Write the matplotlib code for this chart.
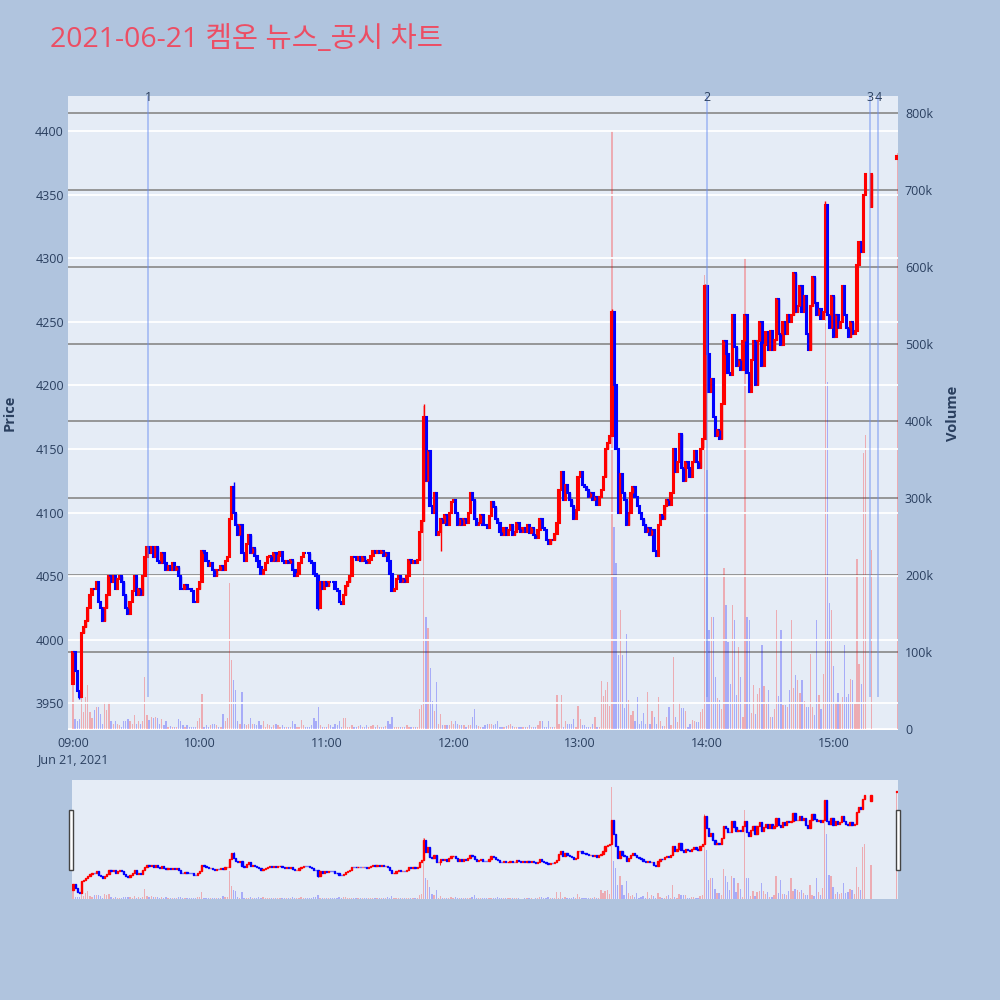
import numpy as np
import matplotlib.pyplot as plt
from matplotlib.patches import Rectangle
import matplotlib.transforms as mtransforms

plt.rcParams['font.family'] = ['Open Sans', 'Noto Sans CJK KR', 'DejaVu Sans']

title = '2021-06-21 켐온 뉴스_공시 차트'

# 1-minute closes from 09:00 (index = minutes after 09:00), nan = no trade
nan = np.nan
closes = [
    3990, 3975, 3960, 3955, 4005, 4010, 4015, 4025, 4035, 4040,
    4040, 4045, 4030, 4025, 4015, 4025, 4035, 4050, 4045, 4050,
    4040, 4048, 4050, 4045, 4035, 4025, 4020, 4030, 4038, 4050,
    4035, 4040, 4035, 4050, 4065, 4073, 4068, 4073, 4065, 4073,
    4062, 4060, 4068, 4060, 4055, 4058, 4055, 4060, 4055, 4057,
    4050, 4040, 4040, 4043, 4040, 4040, 4038, 4030, 4030, 4040,
    4045, 4070, 4068, 4062, 4058, 4060, 4055, 4050, 4055, 4055,
    4058, 4055, 4062, 4065, 4095, 4120, 4100, 4090, 4082, 4090,
    4068, 4062, 4075, 4082, 4068, 4072, 4066, 4062, 4057, 4052,
    4055, 4060, 4065, 4066, 4062, 4068, 4062, 4066, 4069, 4062,
    4060, 4062, 4060, 4063, 4055, 4050, 4052, 4060, 4065, 4068,
    4068, 4068, 4062, 4060, 4052, 4050, 4025, 4045, 4040, 4045,
    4042, 4045, 4045, 4045, 4040, 4038, 4030, 4028, 4035, 4042,
    4045, 4050, 4065, 4065, 4063, 4065, 4062, 4065, 4062, 4060,
    4063, 4066, 4070, 4068, 4070, 4068, 4070, 4066, 4068, 4062,
    4052, 4038, 4040, 4048, 4050, 4045, 4048, 4045, 4050, 4063,
    4060, 4062, 4060, 4063, 4085, 4093, 4175, 4125, 4148, 4105,
    4100, 4115, 4082, 4085, 4095, 4092, 4098, 4090, 4100, 4108,
    4110, 4100, 4090, 4095, 4090, 4095, 4092, 4100, 4115, 4110,
    4095, 4090, 4092, 4098, 4090, 4090, 4088, 4097, 4108, 4104,
    4095, 4092, 4085, 4082, 4088, 4082, 4086, 4090, 4082, 4085,
    4092, 4087, 4085, 4088, 4085, 4090, 4084, 4088, 4082, 4080,
    4086, 4095, 4088, 4086, 4078, 4075, 4078, 4078, 4083, 4092,
    4118, 4132, 4110, 4122, 4115, 4110, 4105, 4095, 4102, 4128,
    4132, 4122, 4120, 4118, 4112, 4115, 4110, 4112, 4106, 4112,
    4118, 4128, 4150, 4155, 4160, 4258, 4200, 4150, 4100, 4130,
    4115, 4110, 4090, 4100, 4115, 4120, 4112, 4105, 4100, 4095,
    4090, 4085, 4088, 4082, 4086, 4070, 4066, 4090, 4098, 4095,
    4105, 4110, 4106, 4115, 4150, 4132, 4140, 4162, 4135, 4125,
    4140, 4135, 4128, 4140, 4148, 4140, 4135, 4150, 4158, 4278,
    4225, 4195, 4205, 4175, 4160, 4165, 4158, 4185, 4235, 4225,
    4210, 4208, 4255, 4230, 4215, 4220, 4212, 4235, 4255, 4210,
    4195, 4220, 4235, 4200, 4235, 4250, 4215, 4232, 4242, 4228,
    4243, 4228, 4236, 4268, 4240, 4232, 4250, 4240, 4255, 4250,
    4255, 4288, 4258, 4262, 4278, 4258, 4270, 4240, 4228, 4262,
    4285, 4265, 4255, 4260, 4252, 4258, 4342, 4255, 4245, 4270,
    4238, 4255, 4245, 4250, 4278, 4255, 4245, 4238, 4250, 4240,
    4243, 4295, 4313, 4305, 4350, 4366, nan, nan, 4366,
]
# candles whose open is not the previous close
open_fix = {0: 3965, 378: 4340}
# visible wicks
high_fix = {76: 4124, 166: 4185, 255: 4260, 256: 4245, 299: 4280, 300: 4265, 356: 4345}
low_fix = {3: 3953, 116: 4023, 174: 4070}

# volume in thousands of shares
volumes = [
    57, 13, 10, 13, 40, 22, 42, 57, 22, 14,
    25, 28, 29, 20, 7, 35, 25, 35, 10, 7,
    10, 6, 5, 3, 10, 10, 13, 11, 6, 18,
    6, 10, 6, 10, 67, 18, 12, 16, 14, 15,
    14, 7, 13, 5, 10, 3, 4, 3, 3, 3,
    13, 10, 5, 3, 5, 3, 3, 3, 3, 10,
    14, 46, 3, 5, 3, 5, 7, 6, 5, 3,
    3, 20, 10, 14, 190, 90, 64, 51, 10, 7,
    48, 7, 5, 7, 14, 6, 7, 5, 10, 5,
    10, 3, 7, 5, 3, 5, 7, 5, 3, 5,
    3, 3, 3, 3, 10, 6, 3, 3, 12, 5,
    3, 3, 3, 5, 14, 10, 29, 5, 3, 3,
    3, 7, 5, 3, 7, 5, 10, 3, 14, 14,
    3, 3, 5, 3, 3, 4, 5, 3, 3, 5,
    3, 4, 5, 3, 5, 3, 3, 3, 4, 10,
    7, 16, 3, 3, 3, 3, 3, 3, 5, 3,
    3, 3, 3, 3, 26, 31, 420, 145, 131, 79,
    36, 23, 61, 7, 20, 5, 5, 5, 5, 11,
    6, 10, 7, 5, 5, 5, 3, 5, 5, 15,
    26, 5, 4, 3, 3, 5, 6, 7, 6, 5,
    7, 10, 3, 3, 3, 4, 5, 7, 4, 3,
    3, 3, 2, 2, 3, 3, 5, 3, 2, 3,
    5, 10, 10, 3, 3, 10, 3, 3, 3, 44,
    7, 44, 3, 10, 7, 7, 7, 13, 3, 30,
    13, 5, 5, 3, 3, 3, 7, 15, 3, 3,
    62, 43, 51, 61, 30, 777, 262, 215, 96, 155,
    96, 27, 123, 38, 18, 23, 10, 42, 7, 10,
    21, 7, 48, 7, 23, 16, 7, 42, 10, 4,
    4, 16, 29, 5, 94, 15, 9, 35, 27, 27,
    23, 3, 7, 12, 10, 9, 9, 22, 26, 590,
    336, 128, 145, 145, 67, 40, 38, 26, 209, 161,
    113, 59, 161, 142, 44, 106, 67, 15, 612, 146,
    141, 21, 57, 19, 45, 53, 109, 56, 32, 50,
    15, 15, 26, 155, 43, 128, 31, 31, 28, 51,
    142, 53, 70, 63, 47, 63, 37, 29, 29, 98,
    29, 18, 142, 44, 26, 72, 680, 451, 164, 155,
    82, 34, 47, 34, 42, 109, 41, 46, 65, 64,
    33, 221, 84, 59, 358, 382, 0, 0, 233,
]

# closing auction at 15:30
auction_min = 390
auction_open, auction_close = 4378, 4380
auction_vol = 748

news_times = ['09:35:30', '14:00:00', '15:17:00', '15:21:00']
news_labels = ['1', '2', '3', '4']
hour_labels = ['09:00', '10:00', '11:00', '12:00', '13:00', '14:00', '15:00']
date_label = 'Jun 21, 2021'

# ---- build OHLC ----
xs, o_list, c_list, hi_list, lo_list, v_list = [], [], [], [], [], []
prev = None
for i, c in enumerate(closes):
    if np.isnan(c):
        continue
    o = open_fix.get(i, prev)
    xs.append(i)
    o_list.append(o)
    c_list.append(c)
    hi_list.append(high_fix.get(i, max(o, c)))
    lo_list.append(low_fix.get(i, min(o, c)))
    v_list.append(volumes[i])
    prev = c
xs.append(auction_min)
o_list.append(auction_open)
c_list.append(auction_close)
hi_list.append(auction_close)
lo_list.append(auction_open)
v_list.append(auction_vol)

xs = np.array(xs, float)
o_arr = np.array(o_list, float)
c_arr = np.array(c_list, float)
up = c_arr > o_arr
cols = np.where(up, '#FF0000', '#0000FF')
vcols = [(1, 0, 0, 0.27) if u else (0, 0, 1, 0.27) for u in up]


def to_min(t):
    h, m, s = [int(p) for p in t.split(':')]
    return (h - 9) * 60 + m + s / 60


news_x = [to_min(t) for t in news_times]

BG = '#E5ECF6'
TXT = '#2a3f5f'
PMIN, PMAX = 3929, 4427.5
VMIN, VMAX = -1.3, 822

fig = plt.figure(figsize=(10, 10), dpi=100, facecolor='#B0C4DE')


def draw_candles(axis, width, lw, wick_lw):
    axis.bar(xs, c_arr - o_arr, bottom=o_arr, width=width, color=cols,
             edgecolor=cols, linewidth=lw, zorder=3)
    axis.vlines(xs, lo_list, hi_list, colors=cols, linewidth=wick_lw, zorder=3)


# ---- main chart ----
ax = fig.add_axes([0.068, 0.27, 0.83, 0.634])
axv = ax.twinx()
ax.set_zorder(axv.get_zorder() + 1)
ax.patch.set_visible(False)
axv.patch.set_visible(True)
axv.set_facecolor(BG)

axv.bar(xs, v_list, width=0.6, color=vcols, linewidth=0)
axv.set_ylim(VMIN, VMAX)
axv.set_yticks(range(0, 801, 100))
axv.set_yticklabels(['0'] + ['%dk' % v for v in range(100, 801, 100)])
for v in range(100, 801, 100):
    axv.axhline(v, color='#8f8f8f', lw=1.3, zorder=0)
axv.axhline(0, color='white', lw=2, zorder=0)

ax.set_ylim(PMIN, PMAX)
ax.set_yticks(range(3950, 4401, 50))
for p in range(3950, 4401, 50):
    ax.axhline(p, color='white', lw=1.3, zorder=1)
draw_candles(ax, 0.62, 1.5, 1.0)

ax.set_xlim(-2.37, 390.4)
ax.set_xticks([60 * k for k in range(len(hour_labels))])
ax.set_xticklabels([hour_labels[0] + '\n' + date_label] + hour_labels[1:],
                   linespacing=1.35)

trans = mtransforms.blended_transform_factory(ax.transData, ax.transAxes)
ax.vlines(news_x, 3955, PMAX, color='#6b8ff0', alpha=0.5, lw=1.3, zorder=5)
for nx, lab in zip(news_x, news_labels):
    ax.text(nx, 0.997, lab, transform=trans, ha='center', va='center',
            fontsize=9, color=TXT, zorder=6)

for a in (ax, axv):
    for s in a.spines.values():
        s.set_visible(False)
ax.tick_params(axis='y', length=0, labelsize=9, labelcolor=TXT, pad=3)
ax.tick_params(axis='x', length=0, labelsize=9, labelcolor=TXT, pad=5)
axv.tick_params(axis='y', length=0, labelsize=9, labelcolor=TXT, pad=5)

fig.text(0.01, 0.587, 'Price', rotation=90, ha='center', va='center',
         fontsize=10.5, fontweight='bold', color=TXT)
fig.text(0.953, 0.587, 'Volume', rotation=90, ha='center', va='center',
         fontsize=10.5, fontweight='bold', color=TXT)

# ---- range slider ----
rect = [0.072, 0.101, 0.8255, 0.119]
sv = fig.add_axes(rect)
sp = sv.twinx()
sp.set_zorder(sv.get_zorder() + 1)
sp.patch.set_visible(False)
sv.set_facecolor(BG)
sv.bar(xs, v_list, width=0.6, color=vcols, linewidth=0)
sv.set_ylim(VMIN, VMAX)
draw_candles(sp, 0.6, 1.0, 0.6)
sp.set_ylim(PMIN, PMAX)
for a in (sv, sp):
    a.set_xlim(-0.5, 390.5)
    a.set_xticks([])
    a.set_yticks([])
    for s in a.spines.values():
        s.set_visible(False)

for hx in (0.069, 0.8955):
    fig.patches.append(Rectangle((hx, 0.13), 0.0042, 0.06, transform=fig.transFigure,
                                 facecolor='white', edgecolor='#444444', lw=1))

fig.text(0.05, 0.96, title, fontsize=20.5, color='#EC4E64', ha='left', va='center')

fig.savefig('out.png', dpi=100, facecolor=fig.get_facecolor())
